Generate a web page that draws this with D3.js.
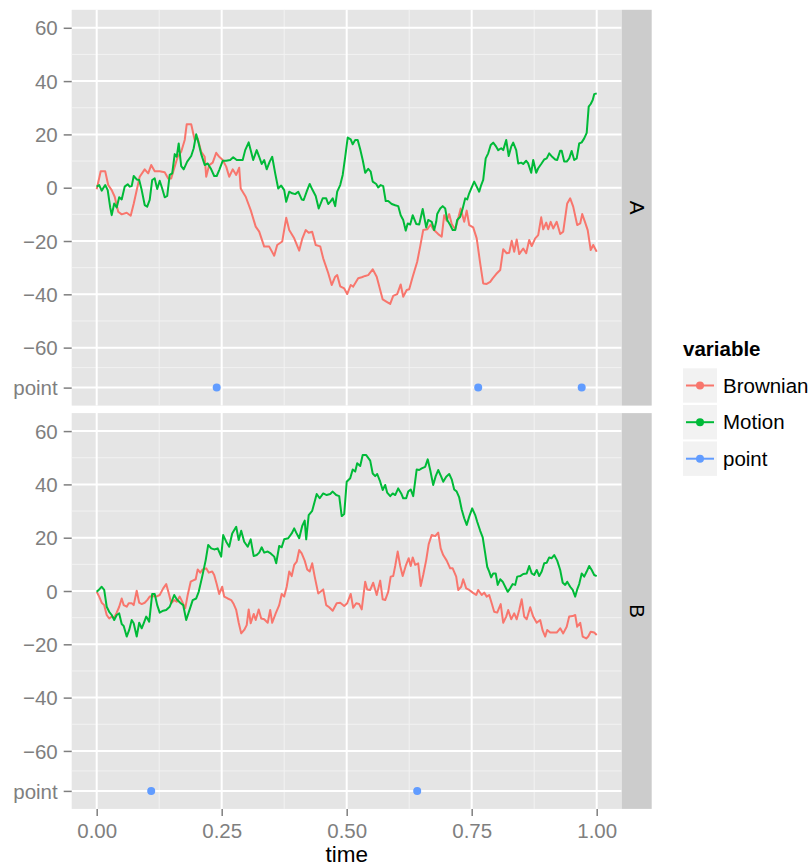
<!DOCTYPE html>
<meta charset="utf-8">
<style>
body { margin: 0; background: #fff; }
svg { font-family: "Liberation Sans", Arial, sans-serif; }
.tick text { fill: #7f7f7f; font-size: 20.5px; }
.tick line { stroke: #7f7f7f; stroke-width: 1.5px; }
</style>
<body></body>
<script src="https://cdnjs.cloudflare.com/ajax/libs/d3/7.8.5/d3.min.js"></script>
<script>

// facets and legend
var facets = ["A", "B"];
var variables = ["Brownian", "Motion", "point"];
var colours = ["#F8766D", "#00BA38", "#619CFF"];

// axis ticks
var xTicks = [0, 0.25, 0.5, 0.75, 1];
var xMinor = [0.125, 0.375, 0.625, 0.875];
var yTicks = [60, 40, 20, 0, -20, -40, -60, -75];
var yMinor = [50, 30, 10, -10, -30, -50, -67.5];
var pointLevel = -75;

// panel A: [time, value]
var brownianA = [[0,-0.6],[0.008,6.2],[0.017,6.2],[0.023,1],[0.030,-0.9],[0.036,-3.4],[0.043,-9],[0.050,-10],[0.060,-9.4],[0.068,-10.5],[0.074,-6],[0.086,4.1],[0.096,6.9],[0.103,5.4],[0.109,8.5],[0.116,6.2],[0.126,6.2],[0.136,5.8],[0.143,3.5],[0.149,3.5],[0.156,7.9],[0.162,11.6],[0.169,13.5],[0.176,17.9],[0.180,23.8],[0.189,23.8],[0.196,17.9],[0.202,18.5],[0.209,13.5],[0.216,11.6],[0.219,4.1],[0.225,8.5],[0.232,9.4],[0.239,13.1],[0.245,11.6],[0.252,10.4],[0.259,7.9],[0.265,4.1],[0.272,6.9],[0.279,4.8],[0.285,7.5],[0.288,-0.3],[0.298,-3.4],[0.308,-8.4],[0.318,-14.6],[0.325,-16.5],[0.335,-22.1],[0.345,-22.1],[0.355,-25.5],[0.361,-21.5],[0.371,-20.2],[0.379,-11.3],[0.385,-15.9],[0.395,-19],[0.405,-23.6],[0.411,-19.2],[0.418,-15.9],[0.424,-16.9],[0.431,-16.5],[0.438,-21.5],[0.447,-22],[0.453,-26.5],[0.463,-32],[0.470,-36.5],[0.477,-33.4],[0.481,-32.8],[0.487,-37],[0.495,-37.8],[0.501,-39.9],[0.508,-36.5],[0.513,-37.1],[0.523,-34],[0.530,-33.6],[0.537,-33.1],[0.543,-32.8],[0.552,-30.6],[0.560,-33.4],[0.567,-38.4],[0.572,-41.9],[0.580,-42.8],[0.587,-43.6],[0.593,-40.6],[0.601,-39.9],[0.608,-36.3],[0.613,-40.9],[0.620,-38.4],[0.625,-38.1],[0.632,-33.4],[0.641,-27.8],[0.647,-22],[0.653,-15.9],[0.661,-15.6],[0.668,-13.8],[0.673,-15.6],[0.683,-17.4],[0.690,-18.4],[0.695,-10.3],[0.700,-12.4],[0.705,-9.9],[0.710,-13.6],[0.717,-15.6],[0.723,-11.5],[0.728,-7.8],[0.735,-12.8],[0.740,-8.6],[0.745,-14],[0.753,-14.9],[0.760,-19],[0.767,-28.4],[0.773,-35.9],[0.780,-36.1],[0.787,-35.3],[0.792,-34],[0.799,-32.4],[0.807,-30.9],[0.813,-23.1],[0.820,-24.6],[0.825,-24.4],[0.830,-19.9],[0.835,-24],[0.840,-19.4],[0.845,-24.9],[0.853,-22.8],[0.859,-24.6],[0.865,-19.6],[0.870,-21.9],[0.877,-19],[0.883,-17.8],[0.889,-11.1],[0.893,-15.6],[0.899,-13.1],[0.903,-15.6],[0.908,-12.8],[0.913,-15.3],[0.920,-12.8],[0.927,-17.4],[0.933,-16.5],[0.941,-5.9],[0.947,-4],[0.953,-7.1],[0.961,-14],[0.967,-13.4],[0.971,-9.9],[0.977,-13.1],[0.982,-15.9],[0.988,-23.4],[0.993,-21.5],[1.0,-24]];

var motionA = [[0,0.4],[0.005,1],[0.010,-1.1],[0.017,1],[0.022,-0.9],[0.027,-7.4],[0.030,-10.3],[0.035,-5.9],[0.040,-7.4],[0.045,-3.6],[0.050,-4.4],[0.056,0.4],[0.062,1.3],[0.066,0.4],[0.070,0.6],[0.074,4.4],[0.080,3.1],[0.085,2.9],[0.090,-0.9],[0.096,-6.5],[0.101,-7.1],[0.106,-4.6],[0.111,2.9],[0.116,3.5],[0.121,-0.5],[0.126,2.6],[0.131,-0.3],[0.136,-3.6],[0.141,-3.1],[0.146,4.8],[0.151,5.4],[0.156,12.6],[0.160,11.6],[0.164,16.6],[0.169,8.1],[0.174,6.9],[0.181,9.8],[0.189,11.9],[0.194,14.8],[0.199,20.1],[0.204,16.6],[0.209,12.6],[0.216,8.5],[0.222,9.1],[0.229,6.9],[0.235,4.4],[0.240,4.4],[0.245,6.6],[0.252,10.1],[0.259,10.1],[0.267,10.4],[0.273,11.4],[0.280,10.4],[0.286,10.4],[0.292,10.4],[0.297,14.1],[0.304,17],[0.308,14.1],[0.313,10.4],[0.320,14.1],[0.325,11.6],[0.330,8.9],[0.335,10.4],[0.340,6.9],[0.346,9.8],[0.351,11.6],[0.357,5.4],[0.363,-0.3],[0.369,0.8],[0.375,-0.9],[0.379,-5.3],[0.385,-1.5],[0.391,-2.1],[0.397,-2.4],[0.403,-1.5],[0.410,-4.4],[0.414,-4.6],[0.421,-0.9],[0.426,1.4],[0.431,-0.6],[0.438,-3.1],[0.444,-7.8],[0.452,-4],[0.459,-4],[0.463,-6.1],[0.467,-5.3],[0.472,-4],[0.477,-6.9],[0.481,-1.5],[0.487,1],[0.492,4.8],[0.497,11.6],[0.502,18.8],[0.508,18.1],[0.512,16.3],[0.517,17.9],[0.522,17.9],[0.527,14.4],[0.532,10.4],[0.537,5.6],[0.543,7.1],[0.548,6],[0.552,2.3],[0.559,1.4],[0.563,0.1],[0.568,1],[0.573,0.6],[0.578,-5],[0.583,-5],[0.590,-6.1],[0.597,-6.6],[0.603,-6.9],[0.608,-10.3],[0.613,-12.1],[0.618,-16.1],[0.622,-13.4],[0.627,-13.8],[0.632,-10.3],[0.639,-13.6],[0.645,-13.8],[0.652,-8],[0.659,-14.9],[0.663,-12.1],[0.670,-12.8],[0.675,-15.9],[0.679,-12.8],[0.681,-9.9],[0.687,-7.8],[0.692,-6.9],[0.697,-7.8],[0.701,-12.1],[0.707,-14],[0.712,-15.9],[0.717,-15.9],[0.721,-12.1],[0.727,-10.9],[0.732,-7.8],[0.737,-4],[0.741,-4.4],[0.745,-2.1],[0.750,0.1],[0.755,2.3],[0.760,0.4],[0.765,-1.5],[0.769,1],[0.773,2.9],[0.778,11],[0.783,12.9],[0.788,16],[0.793,16.9],[0.799,15.4],[0.803,14.1],[0.809,14.8],[0.813,14.1],[0.819,17.9],[0.824,11.9],[0.829,15.4],[0.833,16.9],[0.839,14.1],[0.843,9.1],[0.849,9.4],[0.853,8.9],[0.859,10.1],[0.863,9.1],[0.869,5.6],[0.873,10.4],[0.879,5.6],[0.883,7.3],[0.889,8.9],[0.895,10.6],[0.900,11],[0.905,12.9],[0.911,11.6],[0.917,10.6],[0.921,10.4],[0.927,13.9],[0.930,13.9],[0.935,9.8],[0.940,9.8],[0.945,11],[0.950,13.8],[0.955,10.4],[0.960,11],[0.965,16.6],[0.970,17],[0.975,18.5],[0.980,20.6],[0.984,30.4],[0.988,31.4],[0.992,32.9],[0.995,35.1],[1.0,35.4]];

var pointA = [0.24, 0.763, 0.97];

// panel B: [time, value]
var brownianB = [[0,-0.3],[0.005,-2.1],[0.010,-4.4],[0.015,-5.3],[0.020,-9],[0.025,-10.3],[0.030,-9.6],[0.035,-9.9],[0.040,-8.1],[0.045,-5.9],[0.050,-2.8],[0.054,-5.3],[0.060,-5.9],[0.064,-4.6],[0.070,-4.6],[0.074,-5.3],[0.080,0.1],[0.085,-4.4],[0.090,-4.9],[0.096,-4.4],[0.101,-3.4],[0.106,-2.1],[0.113,-1.9],[0.119,-2.1],[0.126,-1.5],[0.133,1],[0.139,2.6],[0.145,-1.5],[0.149,-4.6],[0.155,-3.4],[0.160,-4],[0.166,-2.1],[0.171,-4],[0.177,-6.5],[0.182,-1.5],[0.188,3.5],[0.192,3.9],[0.198,4.4],[0.202,8.1],[0.207,6.9],[0.212,8.1],[0.219,8.5],[0.224,6.9],[0.231,7.3],[0.235,6],[0.240,2.6],[0.245,-1.1],[0.251,1.6],[0.255,-2.1],[0.262,-2.8],[0.269,-3.4],[0.274,-4.9],[0.279,-7.1],[0.284,-11.9],[0.289,-15.9],[0.295,-14.6],[0.300,-12.8],[0.304,-6.9],[0.308,-12.1],[0.314,-8.6],[0.318,-10.9],[0.324,-6.9],[0.329,-10.3],[0.335,-10.6],[0.342,-11.9],[0.347,-7.1],[0.351,-11.9],[0.358,-8.4],[0.365,-5.3],[0.370,-1.1],[0.375,-2.1],[0.380,1.6],[0.385,7.3],[0.390,5.6],[0.395,9.8],[0.400,11],[0.405,15.4],[0.410,14.1],[0.416,11.4],[0.421,8.1],[0.426,7.3],[0.431,10.4],[0.436,5.4],[0.443,-0.9],[0.453,0.6],[0.459,-5.3],[0.465,-6.1],[0.472,-7.4],[0.480,-4.6],[0.487,-4.4],[0.495,-5.6],[0.501,-4.6],[0.508,-1.1],[0.513,-6.3],[0.519,-4.6],[0.525,-4.9],[0.530,-6.9],[0.537,3.5],[0.541,0.6],[0.547,0.4],[0.553,3.1],[0.560,-1.5],[0.567,3.9],[0.572,-3.1],[0.577,-3.4],[0.583,-0.3],[0.588,5.4],[0.593,5.6],[0.597,9.4],[0.602,14.8],[0.607,9.4],[0.612,5.6],[0.618,9.4],[0.624,12.3],[0.628,9.4],[0.632,12.6],[0.637,9.8],[0.643,10.4],[0.648,1.9],[0.653,6],[0.659,11.6],[0.664,17.6],[0.670,21],[0.677,20.6],[0.683,21.9],[0.688,16],[0.693,13.5],[0.700,11.4],[0.707,8.5],[0.712,8.5],[0.719,5.4],[0.723,0.4],[0.729,1.6],[0.733,4.4],[0.739,1],[0.745,0.4],[0.752,-0.6],[0.759,-1.5],[0.763,0.4],[0.770,-1.5],[0.775,-0.6],[0.780,-2.1],[0.785,-1.5],[0.790,-4.6],[0.795,-7.8],[0.801,-8.1],[0.808,-4.9],[0.813,-11.9],[0.819,-9.6],[0.823,-7.1],[0.829,-10.6],[0.835,-8.4],[0.840,-10.6],[0.845,-7.1],[0.850,-3.1],[0.855,-9.6],[0.860,-10.6],[0.867,-6.1],[0.873,-9.6],[0.880,-11.9],[0.887,-10.9],[0.892,-14.9],[0.897,-17.1],[0.901,-14.6],[0.907,-15.6],[0.913,-15.6],[0.920,-15.6],[0.927,-14],[0.933,-15.9],[0.940,-13.4],[0.945,-9.6],[0.952,-9.4],[0.957,-9],[0.961,-13.4],[0.967,-11.9],[0.972,-17.1],[0.979,-17.8],[0.983,-17.1],[0.988,-15.3],[0.995,-15.6],[1.0,-16.5]];

var motionB = [[0,-0.3],[0.005,0.6],[0.010,1.6],[0.015,0.4],[0.020,-5.9],[0.025,-7.8],[0.030,-9],[0.035,-10.9],[0.040,-9],[0.045,-8.4],[0.050,-12.4],[0.054,-13.1],[0.060,-17.1],[0.065,-14.6],[0.070,-10.9],[0.074,-12.1],[0.080,-17.1],[0.085,-11.9],[0.090,-14],[0.094,-12.1],[0.099,-9.6],[0.105,-11.5],[0.111,-1.1],[0.116,-1.1],[0.121,-5.3],[0.126,-8.1],[0.133,-7.4],[0.139,-7.1],[0.146,-5.9],[0.155,-1.5],[0.160,-3.1],[0.167,-4.4],[0.173,-5.3],[0.179,-10.9],[0.186,-6.9],[0.192,-3.4],[0.199,-2.8],[0.204,-0.3],[0.211,5.4],[0.218,11.6],[0.223,17.3],[0.229,16],[0.235,15.6],[0.242,16],[0.249,12.9],[0.253,21],[0.259,18.5],[0.265,16.6],[0.271,21.6],[0.279,24.1],[0.284,19.1],[0.289,22.6],[0.295,18.5],[0.302,16.6],[0.308,19.4],[0.314,13.1],[0.320,13.5],[0.325,14.4],[0.330,16.4],[0.335,14.4],[0.342,14.8],[0.348,14.1],[0.355,12.9],[0.359,10.4],[0.365,16.9],[0.370,16.4],[0.375,19.4],[0.383,19.8],[0.390,21.6],[0.395,23.5],[0.399,21.9],[0.405,19.8],[0.411,24.4],[0.416,26.4],[0.419,19.4],[0.424,28.5],[0.431,30.1],[0.440,36.4],[0.446,34.8],[0.453,36.6],[0.460,36],[0.467,36.4],[0.472,37.3],[0.479,36],[0.485,35.6],[0.490,28.1],[0.495,28.9],[0.500,41],[0.507,42.3],[0.512,45.6],[0.517,44.8],[0.521,47.9],[0.527,46.9],[0.532,51],[0.539,51],[0.547,48.9],[0.552,44.1],[0.557,43.1],[0.561,43.9],[0.567,41],[0.572,37.9],[0.577,39.8],[0.581,36.9],[0.587,35.6],[0.592,36.6],[0.597,36],[0.603,38.5],[0.609,36.6],[0.613,34.8],[0.619,34.8],[0.623,37.3],[0.628,38.1],[0.633,35.6],[0.640,45.6],[0.645,45.4],[0.650,46],[0.657,46.6],[0.662,49.4],[0.667,45.4],[0.673,39.8],[0.678,43.1],[0.683,45.4],[0.689,42.9],[0.693,41],[0.699,42.9],[0.705,43.9],[0.710,41.9],[0.715,38.1],[0.720,37.3],[0.725,35.1],[0.730,30.6],[0.735,27.3],[0.740,24.8],[0.745,27.9],[0.751,31],[0.757,28.5],[0.761,26],[0.767,22.6],[0.772,20.1],[0.777,14.1],[0.781,9.1],[0.785,7.3],[0.789,5.1],[0.793,6.6],[0.798,6.6],[0.802,2.3],[0.807,4.4],[0.812,3.5],[0.817,1.6],[0.822,-0.3],[0.827,1],[0.832,2.6],[0.837,2.3],[0.841,5.4],[0.847,5.6],[0.853,6.4],[0.860,6.6],[0.865,9.4],[0.870,6.6],[0.875,6],[0.880,7.9],[0.885,5.6],[0.890,7.3],[0.895,10.4],[0.900,10.6],[0.905,12.6],[0.910,12.3],[0.915,13.5],[0.921,11.4],[0.927,7.9],[0.932,3.1],[0.937,2.3],[0.941,3.5],[0.947,1.6],[0.952,0.4],[0.957,-2.1],[0.961,0.6],[0.965,2.6],[0.970,6.6],[0.975,5.4],[0.980,7.3],[0.985,9.4],[0.990,7.9],[0.995,6],[1.0,5.6]];

var pointB = [0.109, 0.641];

var panelData = {
  A: { series: [brownianA, motionA], points: pointA },
  B: { series: [brownianB, motionB], points: pointB }
};

var width = 811, height = 868;
var left = 71.7, right = 621.7;
var panelTops = [9.8, 413.1];
var panelH = 395.8;
var stripW = 30;

var svg = d3.select("body").append("svg")
    .attr("width", width)
    .attr("height", height);

var x = d3.scaleLinear().domain([-0.05, 1.05]).range([left, right]);

// ggplot style labels: real minus sign, "point" for the bottom level
function yLabel(d) {
  if (d === pointLevel) return "point";
  return d < 0 ? "\u2212" + Math.abs(d) : String(d);
}

var line = d3.line()
    .x(function(d) { return x(d[0]); });

facets.forEach(function(f, i) {
  var top = panelTops[i];
  var y = d3.scaleLinear().domain([-81.75, 66.75]).range([top + panelH, top]);
  line.y(function(d) { return y(d[1]); });

  var g = svg.append("g").attr("class", "panel");

  g.append("rect")
      .attr("x", left).attr("y", top)
      .attr("width", right - left).attr("height", panelH)
      .attr("fill", "#E5E5E5");

  // minor grid
  g.selectAll(".ymin").data(yMinor).enter().append("line")
      .attr("x1", left).attr("x2", right)
      .attr("y1", function(d) { return y(d); }).attr("y2", function(d) { return y(d); })
      .attr("stroke", "#F2F2F2").attr("stroke-width", 1);
  g.selectAll(".xmin").data(xMinor).enter().append("line")
      .attr("y1", top).attr("y2", top + panelH)
      .attr("x1", function(d) { return x(d); }).attr("x2", function(d) { return x(d); })
      .attr("stroke", "#F2F2F2").attr("stroke-width", 1);

  // major grid
  g.selectAll(".ymaj").data(yTicks).enter().append("line")
      .attr("x1", left).attr("x2", right)
      .attr("y1", function(d) { return y(d); }).attr("y2", function(d) { return y(d); })
      .attr("stroke", "#fff").attr("stroke-width", 2);
  g.selectAll(".xmaj").data(xTicks).enter().append("line")
      .attr("y1", top).attr("y2", top + panelH)
      .attr("x1", function(d) { return x(d); }).attr("x2", function(d) { return x(d); })
      .attr("stroke", "#fff").attr("stroke-width", 2);

  // lines
  panelData[f].series.forEach(function(s, k) {
    g.append("path")
        .datum(s)
        .attr("d", line)
        .attr("fill", "none")
        .attr("stroke", colours[k])
        .attr("stroke-width", 2)
        .attr("stroke-linejoin", "round");
  });

  g.selectAll(".pt").data(panelData[f].points).enter().append("circle")
      .attr("cx", function(d) { return x(d); })
      .attr("cy", y(pointLevel))
      .attr("r", 4)
      .attr("fill", colours[2]);

  // strip
  g.append("rect")
      .attr("x", right).attr("y", top)
      .attr("width", stripW).attr("height", panelH)
      .attr("fill", "#CCCCCC");
  g.append("text")
      .attr("transform", "translate(" + (right + stripW / 2) + "," + (top + panelH / 2) + ") rotate(90)")
      .attr("text-anchor", "middle")
      .attr("dy", "0.35em")
      .style("font-size", "20.5px")
      .attr("fill", "#000")
      .text(f);

  // y axis
  var yAxis = svg.append("g")
      .attr("transform", "translate(" + left + ",0)")
      .call(d3.axisLeft(y)
        .tickValues(yTicks)
        .tickSize(8)
        .tickPadding(6)
        .tickFormat(yLabel));
  yAxis.select(".domain").remove();
  yAxis.selectAll(".tick text").attr("dy", "0.35em");

  if (i === facets.length - 1) {
    var xAxis = svg.append("g")
        .attr("transform", "translate(0," + (top + panelH) + ")")
        .call(d3.axisBottom(x)
          .tickValues(xTicks)
          .tickSize(7)
          .tickPadding(8)
          .tickFormat(d3.format(".2f")));
    xAxis.select(".domain").remove();
  }
});

svg.selectAll("g").attr("font-family", null);

svg.append("text")
    .attr("x", (left + right) / 2)
    .attr("y", 862)
    .attr("text-anchor", "middle")
    .style("font-size", "22.5px")
    .text("time");

// legend
var legend = svg.append("g").attr("transform", "translate(683,0)");
legend.append("text")
    .attr("x", 0).attr("y", 356)
    .style("font-size", "20.5px")
    .style("font-weight", "bold")
    .text("variable");

var keyTops = [368.3, 405, 441.5];
var key = legend.selectAll(".key").data(variables).enter().append("g")
    .attr("transform", function(d, i) { return "translate(0," + keyTops[i] + ")"; });
key.append("rect")
    .attr("width", 34).attr("height", 34.4)
    .attr("fill", "#F2F2F2");
key.append("line")
    .attr("x1", 3).attr("x2", 31)
    .attr("y1", 17.2).attr("y2", 17.2)
    .attr("stroke", function(d, i) { return colours[i]; })
    .attr("stroke-width", 2);
key.append("circle")
    .attr("cx", 17).attr("cy", 17.2).attr("r", 4)
    .attr("fill", function(d, i) { return colours[i]; });
key.append("text")
    .attr("x", 40).attr("y", 17.2)
    .attr("dy", "0.35em")
    .style("font-size", "20.5px")
    .text(function(d) { return d; });

</script>
